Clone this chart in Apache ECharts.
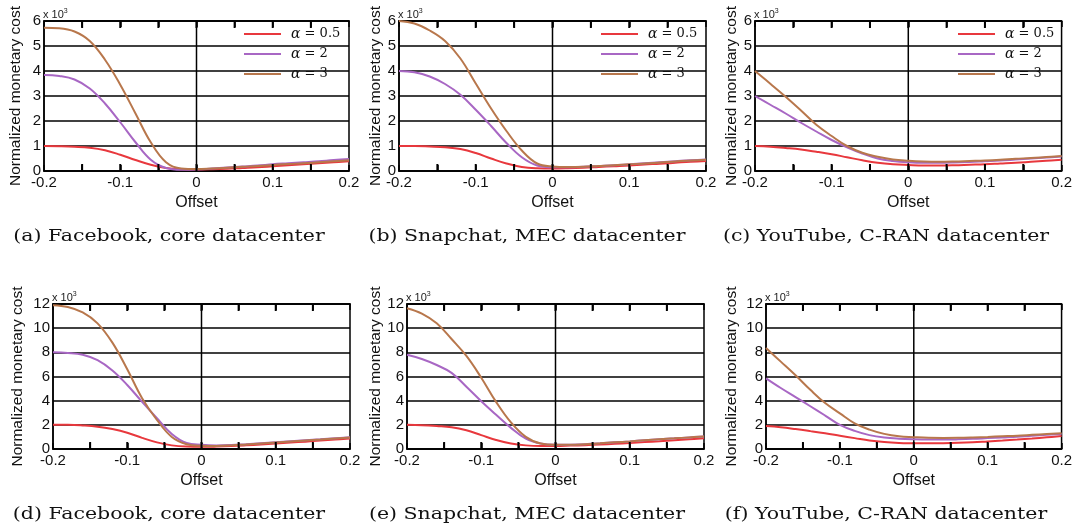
<!DOCTYPE html>
<html><head><meta charset="utf-8">
<script src="https://cdn.jsdelivr.net/npm/echarts@6/dist/echarts.min.js"></script>
<style>html,body{margin:0;padding:0;background:#fff}#c{width:1075px;height:532px}</style>
</head><body><div id="c"></div>
<script>
const xs = [-0.2,-0.18,-0.16,-0.14,-0.12,-0.1,-0.08,-0.06,-0.04,-0.02,0,0.02,0.04,0.06,0.08,0.1,0.12,0.14,0.16,0.18,0.2];
const seriesNames = ['α = 0.5','α = 2','α = 3'];
const captions = ['(a) Facebook, core datacenter','(b) Snapchat, MEC datacenter','(c) YouTube, C-RAN datacenter',
                  '(d) Facebook, core datacenter','(e) Snapchat, MEC datacenter','(f) YouTube, C-RAN datacenter'];
const xTickLabels = ['-0.2','-0.1','0','0.1','0.2'];
const xTickPositions = [-0.15,-0.1,-0.05,0,0.05,0.1,0.15];

// top row (x10^3, 0..6)
const fbCoreRed    = [1.0,0.99,0.97,0.93,0.83,0.65,0.44,0.25,0.12,0.07,0.06,0.07,0.09,0.12,0.15,0.19,0.23,0.27,0.31,0.35,0.39];
const fbCorePurple = [3.84,3.8,3.66,3.3,2.7,1.95,1.15,0.45,0.12,0.05,0.06,0.1,0.14,0.18,0.22,0.27,0.31,0.35,0.39,0.44,0.48];
const fbCoreBrown  = [5.73,5.71,5.58,5.2,4.45,3.45,2.3,1.15,0.35,0.1,0.08,0.1,0.13,0.17,0.2,0.24,0.28,0.31,0.35,0.39,0.43];
const snapRed      = [1.0,1.0,0.98,0.95,0.88,0.72,0.5,0.3,0.16,0.11,0.1,0.11,0.13,0.16,0.19,0.22,0.26,0.29,0.33,0.37,0.4];
const snapPurple   = [4.0,3.95,3.78,3.48,3.05,2.45,1.8,1.12,0.55,0.22,0.15,0.15,0.17,0.2,0.23,0.27,0.31,0.35,0.39,0.43,0.46];
const snapBrown    = [6.0,5.9,5.62,5.2,4.5,3.5,2.5,1.6,0.82,0.3,0.18,0.16,0.17,0.2,0.23,0.27,0.3,0.34,0.38,0.42,0.45];
const ytRed        = [1.0,0.97,0.92,0.86,0.77,0.67,0.55,0.43,0.33,0.27,0.24,0.22,0.22,0.23,0.25,0.27,0.3,0.33,0.37,0.41,0.45];
const ytPurple     = [3.0,2.65,2.3,1.93,1.58,1.24,0.95,0.7,0.5,0.4,0.35,0.33,0.33,0.34,0.36,0.39,0.42,0.46,0.5,0.54,0.58];
const ytBrown      = [4.0,3.49,2.97,2.42,1.85,1.4,1.0,0.73,0.57,0.46,0.41,0.38,0.37,0.38,0.4,0.42,0.45,0.49,0.52,0.56,0.6];
// bottom row (x10^3, 0..12)
const fbCoreRed2    = [2.0,2.0,1.95,1.85,1.65,1.35,0.92,0.55,0.3,0.2,0.18,0.2,0.24,0.3,0.37,0.45,0.53,0.61,0.7,0.78,0.86];
const fbCorePurple2 = [8.0,7.95,7.8,7.35,6.5,5.3,3.9,2.55,1.25,0.5,0.35,0.3,0.33,0.4,0.48,0.56,0.64,0.72,0.8,0.89,0.98];
const fbCoreBrown2  = [11.9,11.75,11.3,10.4,8.8,6.6,4.2,2.4,1.0,0.4,0.27,0.25,0.3,0.38,0.46,0.54,0.62,0.7,0.78,0.87,0.95];
const snapRed2      = [2.0,1.97,1.9,1.8,1.55,1.15,0.75,0.45,0.3,0.25,0.25,0.28,0.32,0.37,0.43,0.5,0.57,0.64,0.72,0.8,0.88];
const snapPurple2   = [7.8,7.45,6.95,6.3,5.15,3.95,2.83,1.75,0.85,0.45,0.35,0.36,0.4,0.47,0.55,0.63,0.72,0.8,0.88,0.96,1.03];
const snapBrown2    = [11.65,11.2,10.4,9.1,7.7,5.9,3.9,2.2,1.0,0.45,0.35,0.35,0.4,0.47,0.55,0.63,0.72,0.8,0.88,0.96,1.03];
const ytRed2        = [1.9,1.8,1.65,1.48,1.3,1.1,0.9,0.7,0.57,0.5,0.48,0.47,0.48,0.51,0.56,0.63,0.7,0.78,0.87,0.97,1.07];
const ytPurple2     = [5.85,5.05,4.3,3.54,2.77,2.0,1.5,1.15,0.95,0.85,0.8,0.78,0.78,0.8,0.84,0.9,0.96,1.02,1.1,1.17,1.25];
const ytBrown2      = [8.35,7.23,6.1,4.9,3.8,2.95,2.12,1.6,1.25,1.05,0.98,0.93,0.92,0.93,0.96,1.0,1.05,1.1,1.17,1.24,1.3];

const panelData = [
  [fbCoreRed, fbCorePurple, fbCoreBrown],
  [snapRed, snapPurple, snapBrown],
  [ytRed, ytPurple, ytBrown],
  [fbCoreRed2, fbCorePurple2, fbCoreBrown2],
  [snapRed2, snapPurple2, snapBrown2],
  [ytRed2, ytPurple2, ytBrown2]
];
const yMax = [6,6,6,12,12,12];
const yStep = [1,1,1,2,2,2];

// layout
const grids = [
  {left:44, top:21, width:305, height:150},
  {left:399, top:21, width:307, height:150},
  {left:755, top:21, width:308, height:150},
  {left:53, top:304, width:297, height:145},
  {left:407, top:304, width:297, height:145},
  {left:766, top:304, width:297, height:145}
];
const yNameGap = [20, 13, 15, 27, 19, 26];
const capPos = [[169,237],[527,237],[886,237],[169,515],[527,515],[886,515]];
const colors = ['#e8383d','#a867c4','#b8774c'];
const sans = 'Liberation Sans, Arial, sans-serif';
const serif = 'DejaVu Serif, serif';

const option = {
  animation:false,
  grid: grids.map(g => Object.assign({show:true, borderColor:'#000', borderWidth:1.5, backgroundColor:'transparent'}, g)),
  xAxis: [], yAxis: [], series: [], legend: [], graphic: []
};

function xLabel(v){
  const k = Math.round(v*100);
  if (k % 10 !== 0) return '';
  return xTickLabels[(k + 20) / 10];
}

grids.forEach((g, i) => {
  option.xAxis.push({
    type:'value', gridIndex:i, min:-0.2, max:0.2, interval:0.05, position:'bottom',
    axisLine:{show:true, onZero:false, lineStyle:{color:'#000', width:1.5}},
    axisTick:{show:true, inside:true, length:6, lineStyle:{color:'#000', width:1.5}},
    axisLabel:{formatter:xLabel, color:'#111', fontSize:15, fontFamily:sans, margin:4, showMinLabel:true, showMaxLabel:true},
    splitLine:{show:false},
    name:'Offset', nameLocation:'middle', nameGap:24,
    nameTextStyle:{color:'#111', fontSize:16, fontFamily:sans}
  });
  option.xAxis.push({
    type:'value', gridIndex:i, min:-0.2, max:0.2, interval:0.05, position:'top',
    axisLine:{show:true, onZero:false, lineStyle:{color:'#000', width:1.5}},
    axisTick:{show:true, inside:true, length:6, lineStyle:{color:'#000', width:1.5}},
    axisLabel:{show:false}, splitLine:{show:false}
  });
  option.yAxis.push({
    type:'value', gridIndex:i, min:0, max:yMax[i], interval:yStep[i],
    axisLine:{show:true, onZero:false, lineStyle:{color:'#000', width:1.5}},
    axisTick:{show:false},
    axisLabel:{color:'#111', fontSize:15, fontFamily:sans, margin:3},
    splitLine:{show:true, lineStyle:{color:'#000', width:1.5}},
    name:'Normalized monetary cost', nameLocation:'middle', nameGap:yNameGap[i],
    nameTextStyle:{color:'#111', fontSize:15.5, fontFamily:sans}
  });
  const ym = yMax[i];
  // x = 0 reference line
  option.series.push({
    type:'custom', xAxisIndex:i*2, yAxisIndex:i, silent:true, z:2,
    data: [[0, 0]], encode:{x:0, y:1},
    renderItem: (params, api) => {
      const b = api.coord([api.value(0), 0]);
      const t = api.coord([api.value(0), ym]);
      return {type:'line', shape:{x1:b[0], y1:b[1], x2:t[0], y2:t[1]}, style:{stroke:'#000', lineWidth:1.5}};
    }
  });
  // inward tick marks, bottom and top edges
  option.series.push({
    type:'scatter', xAxisIndex:i*2, yAxisIndex:i, silent:true, z:6,
    data: xTickPositions.map(x => [x, 0]),
    symbol:'rect', symbolSize:[2, 7], symbolOffset:[0, -3.5],
    itemStyle:{color:'#000', opacity:1}
  });
  option.series.push({
    type:'scatter', xAxisIndex:i*2, yAxisIndex:i, silent:true, z:6,
    data: xTickPositions.map(x => [x, ym]),
    symbol:'rect', symbolSize:[2, 7], symbolOffset:[0, 3.5],
    itemStyle:{color:'#000', opacity:1}
  });
  panelData[i].forEach((arr, s) => {
    option.series.push({
      type:'line', name:seriesNames[s], xAxisIndex:i*2, yAxisIndex:i,
      data: xs.map((x, k) => [x, arr[k]]),
      symbol:'none', showSymbol:false, smooth:0.4,
      lineStyle:{color:colors[s], width:2}, itemStyle:{color:colors[s]},
      z: 3 + s
    });
  });
  // x 10^3 label
  option.graphic.push({
    type:'text', x:g.left - 1, y:g.top - 13,
    style:{text:'x 10{s|3}', font:'11px ' + sans, fill:'#222',
      rich:{s:{fontSize:7, fontFamily:sans, verticalAlign:'top', padding:[0,0,6,0]}}}
  });
  option.graphic.push({
    type:'text', x:capPos[i][0], y:capPos[i][1], scaleX:1.28,
    style:{text:captions[i], font:'16px ' + serif, fill:'#111', align:'center', verticalAlign:'middle'}
  });
});

// legends for top row
[0,1,2].forEach(i => {
  const g = grids[i];
  option.legend.push({
    orient:'vertical', left: g.left + g.width - 110, top: g.top + 1,
    icon:'rect', itemWidth:37, itemHeight:2, itemGap:6, data: seriesNames,
    selectedMode:false,
    formatter: n => n.replace('α', '{i|α}'),
    textStyle:{color:'#111', fontSize:13, fontFamily:serif, padding:[0,0,0,5],
      rich:{i:{fontStyle:'italic', fontSize:14, fontFamily:serif}}}
  });
});

const chart = echarts.init(document.getElementById('c'), null, {renderer:'canvas'});
chart.setOption(option);
</script></body></html>
